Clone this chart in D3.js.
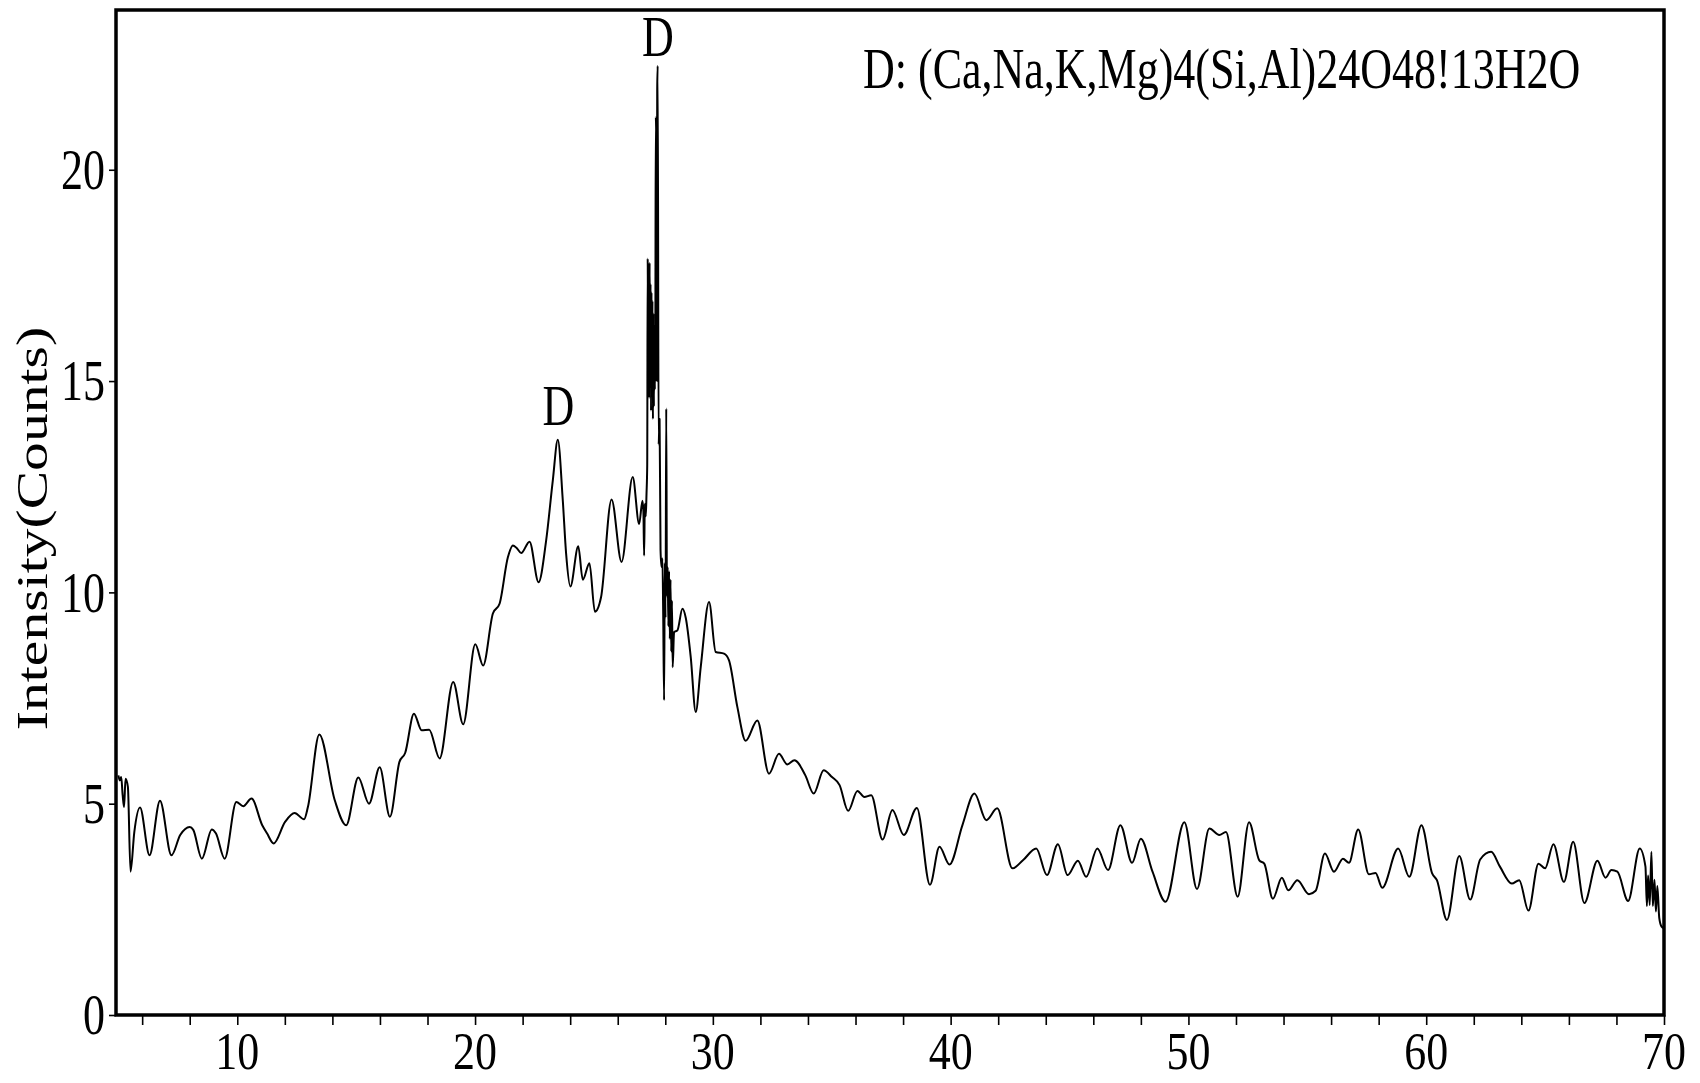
<!DOCTYPE html>
<html><head><meta charset="utf-8">
<script src="https://cdn.jsdelivr.net/npm/d3@7"></script>
<style>
html,body{margin:0;padding:0;background:#fff;}
svg{display:block;background:#fff;}
text{font-family:"Liberation Serif","Times New Roman",serif;fill:#000;}
</style></head><body>
<svg id="chart" width="1700" height="1083"></svg>
<script>
// ---- data (2-theta, intensity) ----
const scan = [
[5.00,5.67],[5.06,5.55],[5.12,5.63],[5.18,5.20],[5.24,4.92],[5.30,5.59],[5.40,5.40],[5.51,3.39],
[5.67,4.33],[5.91,4.91],[6.31,3.78],[6.75,5.07],[7.23,3.78],[7.60,4.26],[8.00,4.45],[8.15,4.38],
[8.51,3.70],[8.93,4.39],[9.10,4.30],[9.47,3.70],[9.96,5.04],[10.25,4.94],[10.60,5.12],[11.05,4.49],
[11.25,4.30],[11.53,4.06],[12.01,4.57],[12.41,4.78],[12.81,4.63],[12.97,4.92],[13.45,6.64],[14.10,5.08],
[14.58,4.49],[15.09,5.62],[15.54,5.00],[15.99,5.86],[16.42,4.69],[16.82,5.99],[17.06,6.20],[17.43,7.13],
[17.75,6.74],[18.07,6.75],[18.51,6.07],[19.08,7.88],[19.50,6.88],[20.01,8.77],[20.34,8.27],[20.75,9.50],
[21.03,9.73],[21.38,10.83],[21.59,11.11],[21.75,11.05],[21.94,10.93],[22.29,11.20],[22.67,10.24],[22.99,11.23],
[23.27,12.65],[23.48,13.61],[23.69,12.17],[23.83,10.91],[24.01,10.14],[24.34,11.09],[24.53,10.30],[24.81,10.69],
[25.04,9.54],[25.30,9.89],[25.74,12.20],[26.16,10.72],[26.63,12.73],[26.90,11.62],[27.04,12.17],[27.08,11.90],
[27.11,10.87],[27.14,12.10],[27.18,11.80],[27.21,12.33],[27.24,13.00],[27.26,17.90],[27.28,15.20],[27.30,17.70],
[27.32,14.60],[27.34,17.80],[27.36,15.80],[27.38,17.30],[27.40,14.30],[27.42,17.10],[27.44,14.90],[27.46,16.90],
[27.48,14.10],[27.50,16.60],[27.52,14.40],[27.54,16.30],[27.56,14.80],[27.58,15.60],[27.60,21.24],[27.62,20.80],
[27.64,15.00],[27.66,21.90],[27.68,22.46],[27.72,13.50],[27.76,14.10],[27.80,11.00],[27.84,10.60],[27.88,10.80],
[27.91,9.60],[27.95,7.45],[27.98,10.70],[28.01,9.40],[28.04,14.35],[28.07,9.90],[28.10,10.60],[28.13,9.20],
[28.16,10.50],[28.19,8.90],[28.22,10.30],[28.25,8.60],[28.28,9.80],[28.31,8.23],[28.37,9.06],[28.51,9.10],
[28.72,9.61],[28.86,9.40],[29.07,8.47],[29.28,7.17],[29.49,8.23],[29.84,9.77],[30.12,8.59],[30.47,8.55],
[30.68,8.39],[31.03,7.29],[31.38,6.49],[31.87,6.97],[32.36,5.71],[32.78,6.18],[33.13,5.93],[33.43,6.03],
[33.89,5.67],[34.24,5.24],[34.66,5.79],[35.01,5.63],[35.33,5.44],[35.69,4.83],[36.08,5.30],[36.37,5.16],
[36.66,5.20],[37.14,4.15],[37.55,4.85],[38.03,4.26],[38.58,4.90],[39.13,3.08],[39.53,3.98],[39.95,3.56],
[40.50,4.50],[41.00,5.24],[41.50,4.61],[41.96,4.89],[42.60,3.47],[43.04,3.66],[43.60,3.94],[44.05,3.31],
[44.51,4.04],[44.92,3.31],[45.35,3.65],[45.70,3.27],[46.17,3.94],[46.62,3.43],[47.14,4.49],[47.63,3.60],
[48.00,4.17],[48.49,3.39],[49.04,2.68],[49.83,4.56],[50.36,2.98],[50.88,4.41],[51.30,4.26],[51.58,4.33],
[52.07,2.80],[52.55,4.56],[52.98,3.66],[53.19,3.58],[53.55,2.75],[53.93,3.25],[54.20,2.95],[54.58,3.19],
[55.07,2.86],[55.35,2.94],[55.74,3.82],[56.12,3.39],[56.50,3.70],[56.75,3.60],[57.14,4.39],[57.59,3.33],
[57.87,3.36],[58.15,3.01],[58.82,3.94],[59.29,3.27],[59.80,4.49],[60.25,3.35],[60.45,3.19],[60.87,2.25],
[61.39,3.76],[61.85,2.73],[62.27,3.68],[62.73,3.86],[63.10,3.51],[63.60,3.11],[63.91,3.19],[64.30,2.47],
[64.72,3.58],[65.00,3.47],[65.35,4.04],[65.79,3.15],[66.18,4.10],[66.65,2.65],[67.20,3.65],[67.54,3.25],
[67.79,3.43],[68.04,3.39],[68.49,2.70],[68.98,3.94],[69.22,3.51],[69.28,2.58],[69.33,3.30],[69.40,2.60],
[69.47,3.86],[69.53,2.58],[69.60,3.20],[69.66,2.45],[69.72,3.05],[69.80,2.30],[69.90,2.09],[70.00,2.05]
];
const xTickValues = [6,8,10,12,14,16,18,20,22,24,26,28,30,32,34,36,38,40,42,44,46,48,50,52,54,56,58,60,62,64,66,68,70];
const xTickLabels = [10,20,30,40,50,60,70];
const yTickLabels = [0,5,10,15,20];
const peakLabelX = [23.5, 27.69];
const peakLabelV = [13.95, 22.7];
const peakLabelText = ["D","D"];
const phaseNote = "D: (Ca,Na,K,Mg)4(Si,Al)24O48!13H2O";
const yTitle = "Intensity(Counts)";

// ---- layout ----
const W = 1700, H = 1083;
const m = {left:116, right:36, top:10, bottom:68};
const FS = 44, SY = 1.3, SYX = 1.22;
const svg = d3.select("#chart");
const x = d3.scaleLinear().domain([4.9,70]).range([m.left, W - m.right]);
const y = d3.scaleLinear().domain([0,23.78]).range([H - m.bottom, m.top]);

// data line
svg.append("path")
  .datum(scan)
  .attr("fill","none")
  .attr("stroke","#000")
  .attr("stroke-width",2)
  .attr("stroke-linejoin","round")
  .attr("d", d3.line().x(d=>x(d[0])).y(d=>y(d[1])).curve(d3.curveMonotoneX));

// axes ticks
const gx = svg.append("g").attr("transform",`translate(0,${y(0)})`)
  .call(d3.axisBottom(x).tickValues(xTickValues).tickSize(10).tickSizeOuter(0).tickFormat(""));
gx.select(".domain").remove();
gx.selectAll(".tick line").attr("stroke","#000").attr("stroke-width",1.6);

const gy = svg.append("g").attr("transform",`translate(${x(4.9)},0)`)
  .call(d3.axisLeft(y).tickValues(yTickLabels).tickSize(7).tickSizeOuter(0).tickFormat(""));
gy.select(".domain").remove();
gy.selectAll(".tick line").attr("stroke","#000").attr("stroke-width",1.6);

// frame
svg.append("rect")
  .attr("x", x(4.9)).attr("y", y(23.78))
  .attr("width", x(70)-x(4.9)).attr("height", y(0)-y(23.78))
  .attr("fill","none").attr("stroke","#000").attr("stroke-width",3.5);

// x tick labels
svg.append("g").selectAll("g").data(xTickLabels).join("g")
  .attr("transform", d=>`translate(${x(d)},${y(0)}) scale(1,${SYX})`)
  .append("text").attr("y",44.3).attr("text-anchor","middle").attr("font-size",FS).text(d=>d);

// y tick labels
svg.append("g").selectAll("g").data(yTickLabels).join("g")
  .attr("transform", d=>`translate(${x(4.9)-11},${y(d)}) scale(1,${SY})`)
  .append("text").attr("y",14.9).attr("text-anchor","end").attr("font-size",FS).text(d=>d);

// y title
svg.append("g").attr("transform",`translate(47,${(y(0)+y(23.78))/2 + 16}) rotate(-90) scale(1.31,1)`)
  .append("text").attr("text-anchor","middle").attr("font-size",FS).text(yTitle);

// peak labels
svg.append("g").selectAll("g").data(peakLabelX).join("g")
  .attr("transform",(d,i)=>`translate(${x(d)},${y(peakLabelV[i])}) scale(1,${SY})`)
  .append("text").attr("text-anchor","middle").attr("font-size",FS).text((d,i)=>peakLabelText[i]);

// phase note
svg.append("g").attr("transform",`translate(863,88) scale(1,${SY})`)
  .append("text").attr("font-size",FS).text(phaseNote);
</script>
</body></html>
